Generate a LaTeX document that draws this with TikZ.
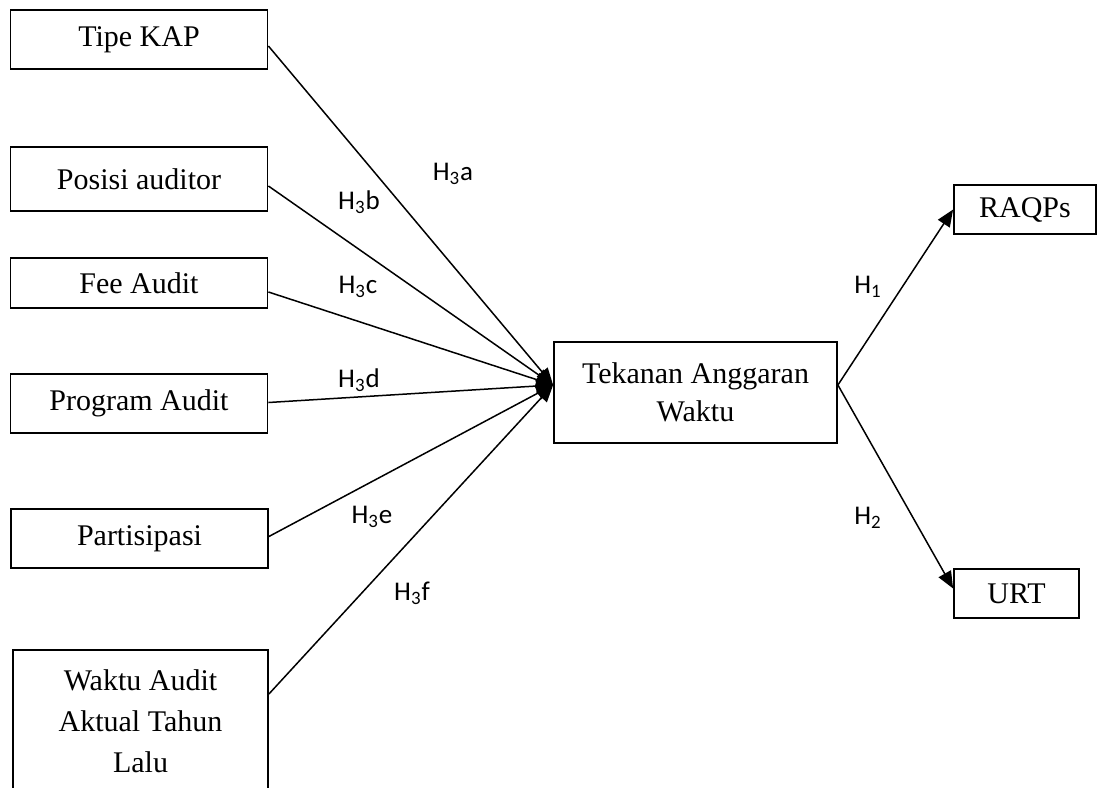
\documentclass[tikz,border=0pt]{standalone}
\usepackage{fontspec}
\setmainfont{Liberation Serif}
\newfontfamily\labfont{Carlito}
\usetikzlibrary{arrows.meta}
\begin{document}
\begin{tikzpicture}[x=0.5pt,y=-0.5pt,
  box/.style={draw, line width=0.9pt, inner sep=0pt, align=center,
    font=\fontsize{15}{19}\selectfont},
  arr/.style={line width=0.75pt, -{Triangle[length=8.5pt,width=7pt]}},
  hlab/.style={font=\labfont\fontsize{13.5}{15}\selectfont, inner sep=0pt}]
\useasboundingbox (0,0) rectangle (1097,787);
\clip (0,0) rectangle (1097,787);
% left column
\node[box, minimum width=128.5pt, minimum height=29.5pt] (tipe) at (139,39.5) {Tipe KAP};
\node[box, minimum width=128.5pt, minimum height=32pt] (posisi) at (139,179) {Posisi auditor};
\node[box, minimum width=128.5pt, minimum height=25pt] (fee) at (139,283) {Fee Audit};
\node[box, minimum width=128.5pt, minimum height=29.5pt] (program) at (139,403.5) {Program Audit};
\node[box, minimum width=128.5pt, minimum height=29.5pt] (partis) at (139.5,538.5) {Partisipasi};
\node[box, minimum width=127.5pt, minimum height=100pt, anchor=north] (waktu) at (140.5,649) {};
\node[font=\fontsize{15}{20.5}\selectfont, align=center, inner sep=0pt] (waktut) at (140.5,721) {Waktu Audit\\Aktual Tahun\\Lalu};
\coordinate (wout) at ([yshift=-22.5pt]waktu.north east);
% centre and right
\node[box, minimum width=141.5pt, minimum height=50.5pt] (tek) at (695.5,392.5) {Tekanan Anggaran\\Waktu};
\node[box, minimum width=71pt, minimum height=24.5pt] (raqps) at (1025,209.5) {RAQPs};
\node[box, minimum width=62.5pt, minimum height=24.5pt] (urt) at (1016.5,593.5) {URT};
% connectors
\draw[arr] ([yshift=-3.25pt]tipe.east) -- ([yshift=3.75pt]tek.west);
\draw[arr] ([yshift=-3.5pt]posisi.east) -- ([yshift=3.75pt]tek.west);
\draw[arr] ([yshift=-4.5pt]fee.east) -- ([yshift=3.75pt]tek.west);
\draw[arr] ([yshift=0.5pt]program.east) -- ([yshift=3.75pt]tek.west);
\draw[arr] ([yshift=1pt]partis.east) -- ([yshift=3.75pt]tek.west);
\draw[arr] (wout) -- ([yshift=3.75pt]tek.west);
\draw[arr] ([yshift=3.75pt]tek.east) -- (raqps.west);
\draw[arr] ([yshift=3.75pt]tek.east) -- ([yshift=2.5pt]urt.west);
% labels
\node[hlab] (la) at (453,174) {H\textsubscript{3}a};
\node[hlab] (lb) at (359,202) {H\textsubscript{3}b};
\node[hlab] (lc) at (358,287) {H\textsubscript{3}c};
\node[hlab] (ld) at (359,380) {H\textsubscript{3}d};
\node[hlab] (le) at (372,517) {H\textsubscript{3}e};
\node[hlab] (lf) at (412,593) {H\textsubscript{3}f};
\node[hlab] (l1) at (868,287) {H\textsubscript{1}};
\node[hlab] (l2) at (868,518) {H\textsubscript{2}};
\end{tikzpicture}
\end{document}
